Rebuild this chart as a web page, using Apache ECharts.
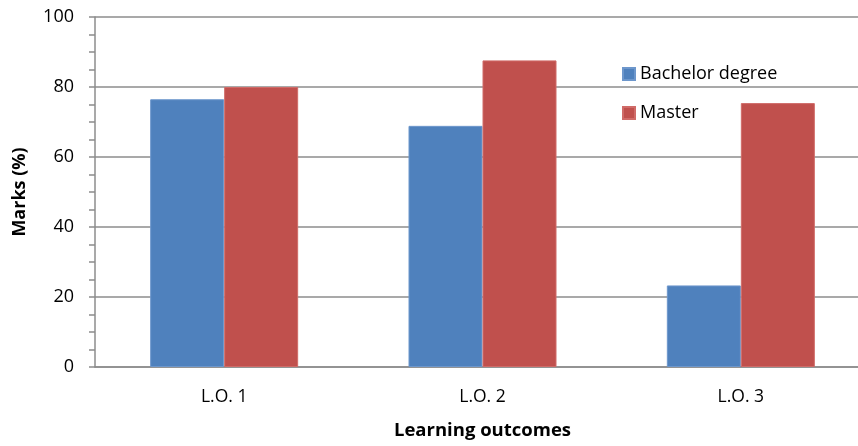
<!DOCTYPE html>
<html>
<head>
<meta charset="utf-8">
<script src="https://cdn.jsdelivr.net/npm/echarts@6/dist/echarts.min.js"></script>
<style>
  html, body { margin: 0; padding: 0; background: #fff; }
  #chart { width: 858px; height: 446px; }
</style>
</head>
<body>
<div id="chart"></div>
<script>
// Learning outcome categories and marks per degree
const categories = ['L.O. 1', 'L.O. 2', 'L.O. 3'];
const bachelorMarks = [76.5, 68.9, 23.3];
const masterMarks = [80.0, 87.6, 75.4];
const seriesNames = ['Bachelor degree', 'Master'];

const font = '"Open Sans", "Liberation Sans", sans-serif';
const chart = echarts.init(document.getElementById('chart'), null, { renderer: 'canvas' });

chart.setOption({
  animation: false,
  backgroundColor: '#ffffff',
  textStyle: { fontFamily: font },
  grid: { left: 95, top: 17, bottom: 79, width: 775, containLabel: false, outerBoundsMode: 'none' },
  legend: {
    orient: 'vertical',
    left: 617,
    top: 60,
    itemWidth: 12,
    itemHeight: 12,
    itemGap: 21,
    icon: 'rect',
    data: seriesNames,
    textStyle: { fontFamily: font, fontSize: 18, color: '#000', padding: [0, 0, 0, 0] }
  },
  xAxis: {
    type: 'category',
    data: categories,
    name: 'Learning outcomes',
    nameLocation: 'middle',
    nameGap: 54,
    nameTextStyle: { fontFamily: font, fontSize: 18.5, fontWeight: 'bold', color: '#000' },
    axisLine: { lineStyle: { color: '#8c8c8c', width: 1.5 } },
    axisTick: { show: false },
    axisLabel: { fontFamily: font, fontSize: 17.5, color: '#000', margin: 21 }
  },
  yAxis: {
    type: 'value',
    min: 0,
    max: 100,
    interval: 20,
    name: 'Marks (%)',
    nameLocation: 'middle',
    nameGap: 66,
    nameTextStyle: { fontFamily: font, fontSize: 18, fontWeight: 'bold', color: '#000' },
    axisLine: { show: true, lineStyle: { color: '#8c8c8c', width: 1.5 } },
    axisTick: { show: true, inside: false, length: 6, lineStyle: { color: '#8c8c8c', width: 1.5 } },
    minorTick: { show: true, splitNumber: 4, length: 6, lineStyle: { color: '#8c8c8c', width: 1.5 } },
    axisLabel: { fontFamily: font, fontSize: 18, color: '#000', margin: 21 },
    splitLine: { show: true, lineStyle: { color: '#8c8c8c', width: 1.5 } }
  },
  series: [
    {
      name: seriesNames[0],
      type: 'bar',
      data: bachelorMarks,
      barWidth: 74,
      barGap: '0%',
      itemStyle: { color: '#4F81BD', borderColor: '#6d97cc', borderWidth: 1 }
    },
    {
      name: seriesNames[1],
      type: 'bar',
      data: masterMarks,
      barWidth: 74,
      barGap: '0%',
      itemStyle: { color: '#C0504D', borderColor: '#d06b68', borderWidth: 1 }
    }
  ]
});
</script>
</body>
</html>
